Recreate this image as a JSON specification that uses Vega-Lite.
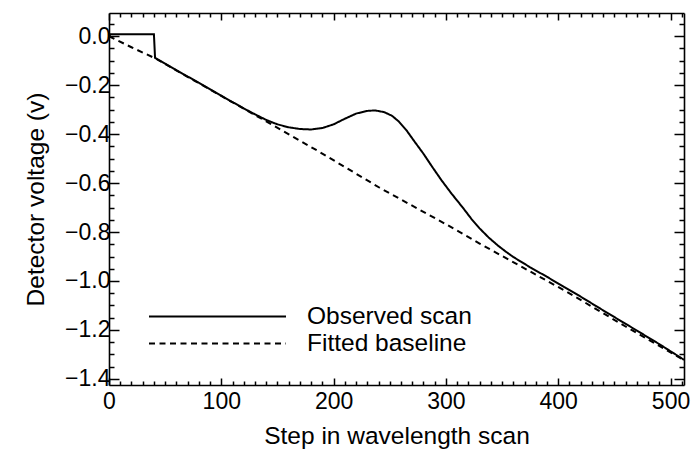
{
  "$schema": "https://vega.github.io/schema/vega-lite/v6.json",
  "width": 575,
  "height": 372,
  "autosize": {"type": "none"},
  "padding": {"left": 109, "top": 13, "right": 11, "bottom": 65},
  "background": "white",
  "config": {
    "font": "Liberation Sans",
    "view": {"stroke": null},
    "axis": {
      "domainColor": "black", "domainWidth": 1.6,
      "tickColor": "black", "tickWidth": 1.5,
      "labelColor": "black", "titleColor": "black",
      "labelFont": "Liberation Sans", "titleFont": "Liberation Sans",
      "labelFontSize": 23, "titleFontSize": 24.5, "titleFontWeight": "normal",
      "grid": false, "labelOverlap": false, "labelFlush": false, "labelBound": false
    },
    "legend": {
      "orient": "none", "legendX": 39, "legendY": 290,
      "symbolType": "stroke", "symbolSize": 18769, "symbolStrokeWidth": 2,
      "symbolStrokeColor": "black", "labelFont": "Liberation Sans",
      "labelFontSize": 24.5, "labelColor": "black", "labelOffset": 20, "labelLimit": 400,
      "clipHeight": 27, "rowPadding": 0, "padding": 0
    }
  },
  "data": {
    "values": [
      {"series": "Observed scan", "step": 0, "voltage": -0.008},
      {"series": "Observed scan", "step": 1, "voltage": 0.008},
      {"series": "Observed scan", "step": 40, "voltage": 0.008},
      {"series": "Observed scan", "step": 41, "voltage": -0.088},
      {"series": "Observed scan", "step": 60, "voltage": -0.139},
      {"series": "Observed scan", "step": 80, "voltage": -0.19},
      {"series": "Observed scan", "step": 100, "voltage": -0.243},
      {"series": "Observed scan", "step": 120, "voltage": -0.295},
      {"series": "Observed scan", "step": 130, "voltage": -0.319},
      {"series": "Observed scan", "step": 140, "voltage": -0.342},
      {"series": "Observed scan", "step": 150, "voltage": -0.36},
      {"series": "Observed scan", "step": 160, "voltage": -0.372},
      {"series": "Observed scan", "step": 170, "voltage": -0.379},
      {"series": "Observed scan", "step": 180, "voltage": -0.381},
      {"series": "Observed scan", "step": 190, "voltage": -0.375},
      {"series": "Observed scan", "step": 200, "voltage": -0.36},
      {"series": "Observed scan", "step": 210, "voltage": -0.337},
      {"series": "Observed scan", "step": 220, "voltage": -0.316},
      {"series": "Observed scan", "step": 230, "voltage": -0.305},
      {"series": "Observed scan", "step": 237, "voltage": -0.303},
      {"series": "Observed scan", "step": 245, "voltage": -0.31},
      {"series": "Observed scan", "step": 252, "voltage": -0.325},
      {"series": "Observed scan", "step": 258, "voltage": -0.348},
      {"series": "Observed scan", "step": 265, "voltage": -0.385},
      {"series": "Observed scan", "step": 272, "voltage": -0.43},
      {"series": "Observed scan", "step": 280, "voltage": -0.48},
      {"series": "Observed scan", "step": 288, "voltage": -0.535},
      {"series": "Observed scan", "step": 296, "voltage": -0.588},
      {"series": "Observed scan", "step": 305, "voltage": -0.643},
      {"series": "Observed scan", "step": 315, "voltage": -0.7},
      {"series": "Observed scan", "step": 323, "voltage": -0.748},
      {"series": "Observed scan", "step": 330, "voltage": -0.785},
      {"series": "Observed scan", "step": 338, "voltage": -0.822},
      {"series": "Observed scan", "step": 346, "voltage": -0.854},
      {"series": "Observed scan", "step": 353, "voltage": -0.879},
      {"series": "Observed scan", "step": 360, "voltage": -0.902},
      {"series": "Observed scan", "step": 375, "voltage": -0.944},
      {"series": "Observed scan", "step": 390, "voltage": -0.983},
      {"series": "Observed scan", "step": 405, "voltage": -1.024},
      {"series": "Observed scan", "step": 420, "voltage": -1.064},
      {"series": "Observed scan", "step": 440, "voltage": -1.12},
      {"series": "Observed scan", "step": 464, "voltage": -1.186},
      {"series": "Observed scan", "step": 490, "voltage": -1.258},
      {"series": "Observed scan", "step": 512, "voltage": -1.322},
      {"series": "Fitted baseline", "step": 0, "voltage": 0.0},
      {"series": "Fitted baseline", "step": 20, "voltage": -0.045},
      {"series": "Fitted baseline", "step": 41, "voltage": -0.09},
      {"series": "Fitted baseline", "step": 100, "voltage": -0.244},
      {"series": "Fitted baseline", "step": 140, "voltage": -0.348},
      {"series": "Fitted baseline", "step": 185, "voltage": -0.466},
      {"series": "Fitted baseline", "step": 241, "voltage": -0.619},
      {"series": "Fitted baseline", "step": 300, "voltage": -0.768},
      {"series": "Fitted baseline", "step": 330, "voltage": -0.847},
      {"series": "Fitted baseline", "step": 408, "voltage": -1.045},
      {"series": "Fitted baseline", "step": 460, "voltage": -1.186},
      {"series": "Fitted baseline", "step": 512, "voltage": -1.323}
    ]
  },
  "layer": [
    {
      "transform": [{"filter": "datum.series == 'Observed scan'"}],
      "mark": {"type": "line", "color": "black", "strokeWidth": 2},
      "encoding": {
        "x": {
          "field": "step", "type": "quantitative",
          "scale": {"domain": [0, 512], "nice": false, "zero": false},
          "axis": {
            "orient": "bottom", "title": "Step in wavelength scan", "titlePadding": 8,
            "values": [0,10,20,30,40,50,60,70,80,90,100,110,120,130,140,150,160,170,180,190,200,210,220,230,240,250,260,270,280,290,300,310,320,330,340,350,360,370,380,390,400,410,420,430,440,450,460,470,480,490,500,510],
            "labelExpr": "datum.value % 100 == 0 ? format(datum.value, 'd') : ''",
            "tickSize": {"condition": {"test": "datum.value % 100 == 0", "value": -7}, "value": -4},
            "labelPadding": 12
          }
        },
        "y": {
          "field": "voltage", "type": "quantitative",
          "scale": {"domain": [-1.425, 0.095], "nice": false, "zero": false},
          "axis": {
            "orient": "left", "title": "Detector voltage (v)", "titlePadding": 16,
            "values": [-1.4,-1.35,-1.3,-1.25,-1.2,-1.15,-1.1,-1.05,-1.0,-0.95,-0.9,-0.85,-0.8,-0.75,-0.7,-0.65,-0.6,-0.55,-0.5,-0.45,-0.4,-0.35,-0.3,-0.25,-0.2,-0.15,-0.1,-0.05,0,0.05],
            "labelExpr": "round(datum.value * 100) % 20 == 0 ? format(datum.value, '.1f') : ''",
            "tickSize": {"condition": {"test": "round(datum.value * 100) % 20 == 0", "value": -10}, "value": -5},
            "labelPadding": 9
          }
        },
        "strokeDash": {
          "field": "series", "type": "nominal",
          "scale": {"domain": ["Observed scan", "Fitted baseline"], "range": [[1, 0], [6, 4.5]]},
          "legend": {"title": null}
        }
      }
    },
    {
      "transform": [{"filter": "datum.series == 'Fitted baseline'"}],
      "mark": {"type": "line", "color": "black", "strokeWidth": 2},
      "encoding": {
        "x": {
          "field": "step", "type": "quantitative",
          "scale": {"domain": [0, 512], "nice": false, "zero": false},
          "axis": {
            "orient": "top", "title": null, "labels": false,
            "values": [0,10,20,30,40,50,60,70,80,90,100,110,120,130,140,150,160,170,180,190,200,210,220,230,240,250,260,270,280,290,300,310,320,330,340,350,360,370,380,390,400,410,420,430,440,450,460,470,480,490,500,510],
            "tickSize": {"condition": {"test": "datum.value % 100 == 0", "value": -7}, "value": -4}
          }
        },
        "y": {
          "field": "voltage", "type": "quantitative",
          "scale": {"domain": [-1.425, 0.095], "nice": false, "zero": false},
          "axis": {
            "orient": "right", "title": null, "labels": false,
            "values": [-1.4,-1.35,-1.3,-1.25,-1.2,-1.15,-1.1,-1.05,-1.0,-0.95,-0.9,-0.85,-0.8,-0.75,-0.7,-0.65,-0.6,-0.55,-0.5,-0.45,-0.4,-0.35,-0.3,-0.25,-0.2,-0.15,-0.1,-0.05,0,0.05],
            "tickSize": {"condition": {"test": "round(datum.value * 100) % 20 == 0", "value": -10}, "value": -5}
          }
        },
        "strokeDash": {
          "field": "series", "type": "nominal",
          "scale": {"domain": ["Observed scan", "Fitted baseline"], "range": [[1, 0], [6, 4.5]]},
          "legend": {"title": null}
        }
      }
    }
  ],
  "resolve": {"axis": {"x": "independent", "y": "independent"}}
}
